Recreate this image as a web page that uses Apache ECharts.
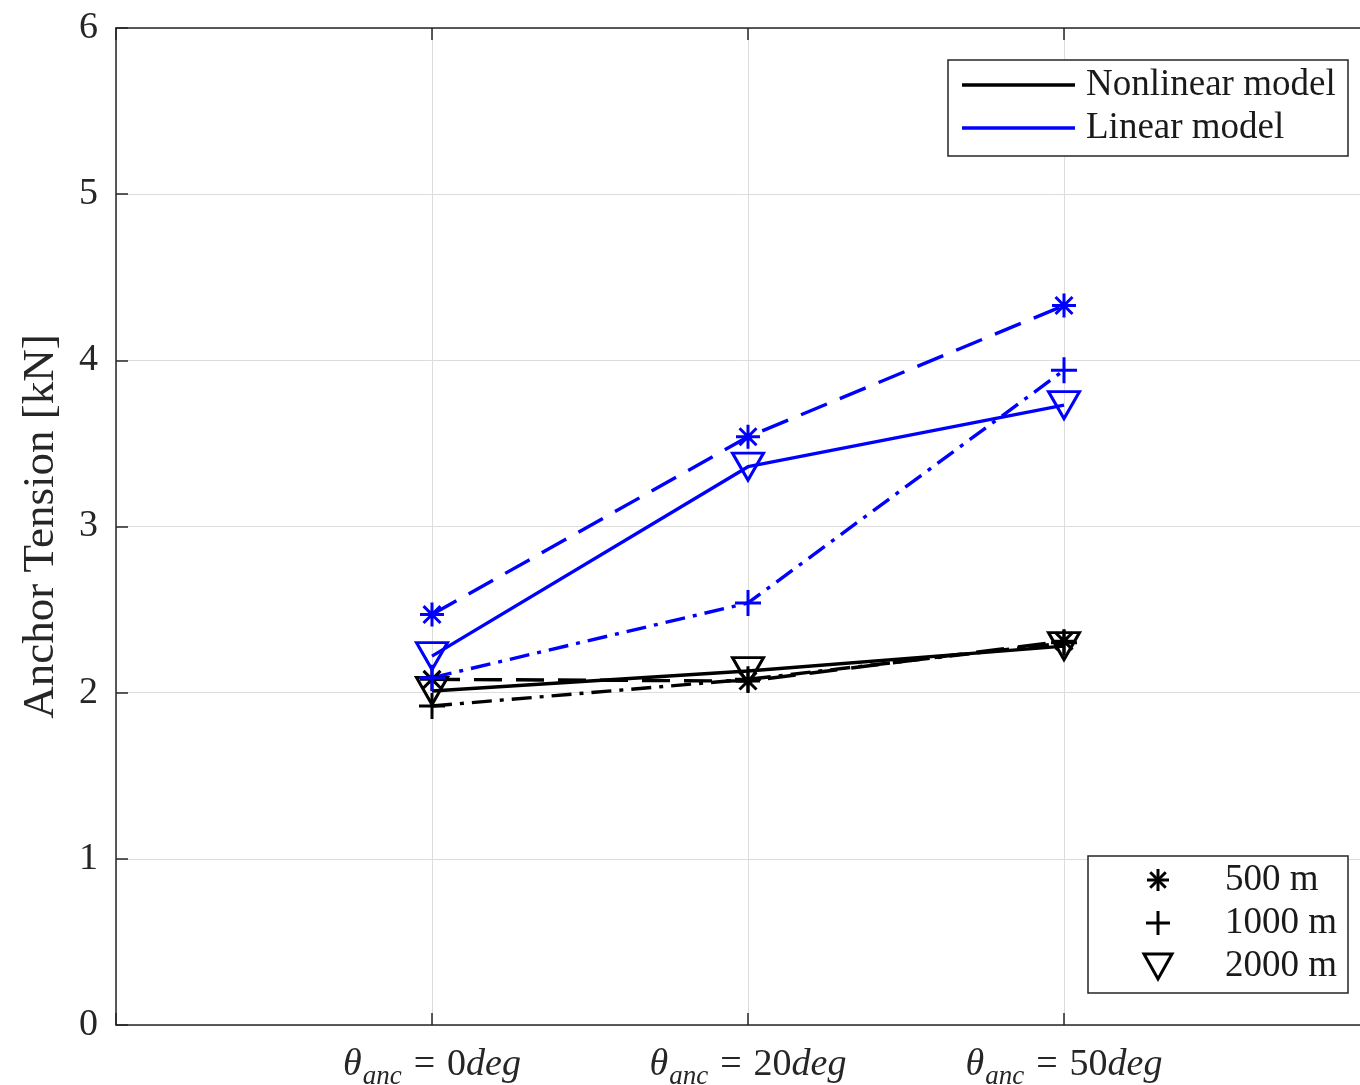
<!DOCTYPE html>
<html>
<head>
<meta charset="utf-8">
<script src="https://cdn.jsdelivr.net/npm/echarts@6/dist/echarts.min.js"></script>
<style>
  html, body { margin: 0; padding: 0; background: #fff; }
  #chart { width: 1360px; height: 1085px; }
</style>
</head>
<body>
<div id="chart"></div>
<script>
// Anchor angles (x positions 1..3 on the axis)
const anchorAngles = [0, 20, 50];

// Mooring line lengths
const lineLengths = ['500 m', '1000 m', '2000 m'];

// Anchor tension [kN], linear model
const linear500  = [2.47, 3.54, 4.33];
const linear1000 = [2.09, 2.54, 3.94];
const linear2000 = [2.22, 3.36, 3.73];

// Anchor tension [kN], nonlinear model
const nonlinear500  = [2.08, 2.07, 2.31];
const nonlinear1000 = [1.92, 2.08, 2.30];
const nonlinear2000 = [2.01, 2.13, 2.28];

const modelNames = ['Nonlinear model', 'Linear model'];

const BLUE = '#0000ff';
const BLACK = '#000000';
const AXIS = '#262626';
const FONT = '"Liberation Serif", "DejaVu Serif", serif';

// Hollow marker outlines
const MARK = {
  star: 'path://M10 0 L10 20 M0 10 L20 10 M2.93 2.93 L17.07 17.07 M17.07 2.93 L2.93 17.07',
  plus: 'path://M10 0 L10 20 M0 10 L20 10',
  tri:  'path://M0 0 L20 0 L10 17.3 Z'
};
const markerOf = [MARK.star, MARK.plus, MARK.tri];
const markerSize = [[24, 24], [26, 26], [31, 27]];
const dashOf = [[28, 14], [20, 8, 4, 8], 'solid'];

function toPoints(values) {
  return values.map((v, i) => [i + 1, v]);
}

function makeSeries(name, values, idx, color) {
  return {
    name: name,
    type: 'line',
    data: toPoints(values),
    symbol: markerOf[idx],
    symbolSize: markerSize[idx],
    showAllSymbol: true,
    lineStyle: { color: color, width: 3.4, type: dashOf[idx] },
    itemStyle: { color: 'rgba(0,0,0,0)', borderColor: color, borderWidth: 3 },
    emphasis: { disabled: true },
    z: 3
  };
}

const series = [
  makeSeries('Nonlinear 500 m', nonlinear500, 0, BLACK),
  makeSeries('Nonlinear 1000 m', nonlinear1000, 1, BLACK),
  makeSeries('Nonlinear 2000 m', nonlinear2000, 2, BLACK),
  makeSeries('Linear 500 m', linear500, 0, BLUE),
  makeSeries('Linear 1000 m', linear1000, 1, BLUE),
  makeSeries('Linear 2000 m', linear2000, 2, BLUE)
];

function angleLabel(v) {
  const i = Math.round(v) - 1;
  if (i < 0 || i >= anchorAngles.length) return '';
  return '{th|θ}{sub|anc}{eq|=}{num|' + anchorAngles[i] + '}{it|deg}';
}

const tickFont = 38;

// Legend key glyphs built from plain line / polygon elements
function legendGlyph(kind, cx, cy) {
  const st = { stroke: BLACK, lineWidth: 3, fill: 'none' };
  const seg = (x1, y1, x2, y2) => ({ type: 'line', z: 11, shape: { x1, y1, x2, y2 }, style: st });
  if (kind === 0) {
    const r = 11, d = r * 0.7071;
    return [seg(cx, cy - r, cx, cy + r), seg(cx - r, cy, cx + r, cy),
            seg(cx - d, cy - d, cx + d, cy + d), seg(cx + d, cy - d, cx - d, cy + d)];
  }
  if (kind === 1) {
    const r = 12;
    return [seg(cx, cy - r, cx, cy + r), seg(cx - r, cy, cx + r, cy)];
  }
  return [{
    type: 'polygon', z: 11,
    shape: { points: [[cx - 14, cy - 12], [cx + 14, cy - 12], [cx, cy + 13]] },
    style: st
  }];
}

const legendGraphics = [];
// model legend
legendGraphics.push({
  type: 'rect', z: 10,
  shape: { x: 948, y: 60, width: 400, height: 96 },
  style: { fill: '#fff', stroke: AXIS, lineWidth: 1.5 }
});
[BLACK, BLUE].forEach((c, i) => {
  const y = 85 + i * 43;
  legendGraphics.push({
    type: 'line', z: 11,
    shape: { x1: 962, y1: y, x2: 1075, y2: y },
    style: { stroke: c, lineWidth: 3.4 }
  });
  legendGraphics.push({
    type: 'text', z: 11, x: 1086, y: y,
    style: { text: modelNames[i], font: '37px ' + FONT, fill: '#1a1a1a', verticalAlign: 'middle' }
  });
});
// line length legend
legendGraphics.push({
  type: 'rect', z: 10,
  shape: { x: 1088, y: 856, width: 260, height: 137 },
  style: { fill: '#fff', stroke: AXIS, lineWidth: 1.5 }
});
lineLengths.forEach((name, i) => {
  const y = 880 + i * 43;
  legendGlyph(i, 1158, y).forEach(g => legendGraphics.push(g));
  legendGraphics.push({
    type: 'text', z: 11, x: 1225, y: y,
    style: { text: name, font: '37px ' + FONT, fill: '#1a1a1a', verticalAlign: 'middle' }
  });
});

const chart = echarts.init(document.getElementById('chart'), null, { renderer: 'canvas' });

chart.setOption({
  animation: false,
  backgroundColor: '#ffffff',
  textStyle: { fontFamily: FONT },
  grid: { left: 116, right: -20, top: 28, bottom: 60, containLabel: false, outerBoundsMode: 'none' },
  xAxis: [{
    type: 'value', min: 0, max: 4, interval: 1, position: 'bottom',
    axisLine: { show: true, onZero: false, lineStyle: { color: AXIS, width: 1.5 } },
    axisTick: { show: true, inside: true, length: 12, lineStyle: { color: AXIS, width: 1.5 } },
    splitLine: { show: true, lineStyle: { color: '#dcdcdc', width: 1 } },
    axisLabel: {
      margin: 16,
      formatter: angleLabel,
      color: '#262626',
      rich: {
        th: { fontFamily: FONT, fontStyle: 'italic', fontSize: tickFont, color: '#262626' },
        sub: { fontFamily: FONT, fontStyle: 'italic', fontSize: 27, color: '#262626', padding: [22, 0, 0, 1] },
        eq: { fontFamily: FONT, fontSize: tickFont, color: '#262626', padding: [0, 12, 0, 12] },
        num: { fontFamily: FONT, fontSize: tickFont, color: '#262626' },
        it: { fontFamily: FONT, fontStyle: 'italic', fontSize: tickFont, color: '#262626' }
      }
    }
  }, {
    type: 'value', min: 0, max: 4, interval: 1, position: 'top',
    axisLine: { show: true, onZero: false, lineStyle: { color: AXIS, width: 1.5 } },
    axisTick: { show: true, inside: true, length: 12, lineStyle: { color: AXIS, width: 1.5 } },
    axisLabel: { show: false },
    splitLine: { show: false }
  }],
  yAxis: {
    type: 'value', min: 0, max: 6, interval: 1,
    name: 'Anchor Tension [kN]',
    nameLocation: 'middle',
    nameRotate: 90,
    nameGap: 52,
    nameTextStyle: { fontFamily: FONT, fontSize: 45, color: '#262626' },
    axisLine: { show: true, onZero: false, lineStyle: { color: AXIS, width: 1.5 } },
    axisTick: { show: true, inside: true, length: 12, lineStyle: { color: AXIS, width: 1.5 } },
    splitLine: { show: true, lineStyle: { color: '#dcdcdc', width: 1 } },
    axisLabel: { margin: 18, fontFamily: FONT, fontSize: tickFont, color: '#262626' }
  },
  series: series,
  graphic: legendGraphics
});
</script>
</body>
</html>
